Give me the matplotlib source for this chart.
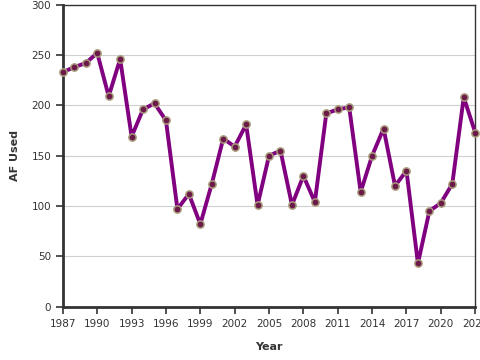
import matplotlib
matplotlib.use("Agg")
import matplotlib.pyplot as plt

years = list(range(1987, 2024))
af_used = [233, 238, 242, 252, 209, 246, 169, 196, 202, 185, 97, 112, 82, 122,
           167, 159, 181, 101, 150, 155, 101, 130, 104, 192, 196, 198, 114, 150,
           177, 120, 135, 43, 95, 103, 122, 208, 173]
xticks = list(range(1987, 2024, 3))
yticks = [0, 50, 100, 150, 200, 250, 300]

fig = plt.figure(figsize=(4.8, 3.6), dpi=100)
ax = fig.add_axes([0.131, 0.148, 0.859, 0.839])
ax.plot(years, af_used, color="#800080", lw=2.8, zorder=3,
        marker="o", ms=5.2, mfc="#6b1a4a", mec="#a89a7a", mew=1.1, clip_on=False)
ax.set_xlim(1987, 2023)
ax.set_ylim(0, 300)
ax.set_xticks(xticks)
ax.set_yticks(yticks)
ax.grid(axis="y", color="#d0d0d0", lw=0.8)
ax.set_axisbelow(True)
for s in ["top", "right"]:
    ax.spines[s].set_linewidth(1.0)
    ax.spines[s].set_color("#333333")
for s in ["left", "bottom"]:
    ax.spines[s].set_linewidth(2.0)
    ax.spines[s].set_color("#333333")
ax.tick_params(labelsize=7.5, length=5, width=1.2, color="#333333", labelcolor="#333333")
ax.set_xlabel("Year", fontsize=8, fontweight="bold", color="#333333", labelpad=10)
ax.set_ylabel("AF Used", fontsize=8, fontweight="bold", color="#333333", labelpad=8)
fig.savefig("out.png", dpi=100)
